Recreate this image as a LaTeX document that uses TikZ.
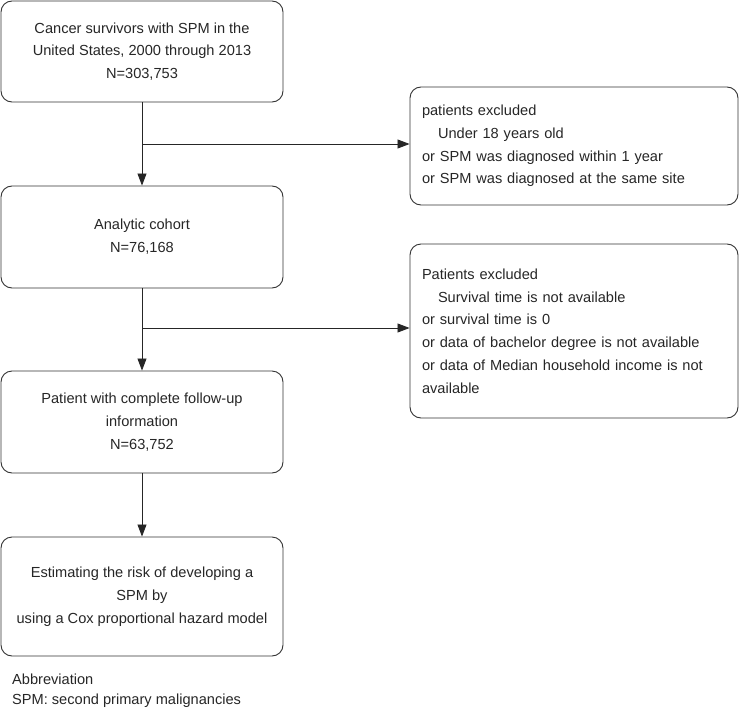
\documentclass[tikz,border=0pt]{standalone}
\usepackage{fontspec}
\setmainfont{Liberation Sans}
\usetikzlibrary{arrows.meta}
\begin{document}
\begin{tikzpicture}[x=1pt,y=1pt,
  every node/.style={font=\fontsize{14.6}{22.8}\selectfont, text=black!85},
  mainbox/.style={draw=black!80, line width=0.9pt, rounded corners=11pt, minimum width=282pt, align=center, inner sep=0pt},
  sidebox/.style={draw=black!80, line width=0.9pt, rounded corners=11pt, text width=304pt, inner xsep=12pt, inner ysep=0pt, align=left, minimum width=328pt},
  arr/.style={draw=black!85, line width=0.8pt, -{Triangle[length=12pt,width=9pt]}},
  plain/.style={draw=black!85, line width=0.8pt}]
\useasboundingbox (0,0) rectangle (740,-723);
\node[mainbox, minimum height=101pt] (b1) at (142,-51.5) {Cancer survivors with SPM in the\\United States, 2000 through 2013\\N=303,753};
\node[mainbox, minimum height=102pt] (b2) at (142,-237) {Analytic cohort\\N=76,168};
\node[mainbox, minimum height=102pt] (b3) at (142,-422) {Patient with complete follow-up\\information\\N=63,752};
\node[mainbox, minimum height=119pt] (b4) at (142,-596.5) {Estimating the risk of developing a\\SPM by\\using a Cox proportional hazard model};
\node[sidebox, minimum height=118pt] (r1) at (574,-146) {patients excluded\\\hspace*{16pt}Under 18 years old\\or SPM was diagnosed within 1 year\\or SPM was diagnosed at the same site};
\node[sidebox, minimum height=174pt] (r2) at (574,-331) {Patients excluded\\\hspace*{16pt}Survival time is not available\\or survival time is 0\\or data of bachelor degree is not available\\or data of Median household income is not\\available};
\coordinate (j1) at (142,-144);
\coordinate (j2) at (142,-328);
\draw[arr] (b1) -- (b2);
\draw[arr] (j1) -- (j1 -| r1.west);
\draw[arr] (b2) -- (b3);
\draw[arr] (j2) -- (j2 -| r2.west);
\draw[arr] (b3) -- (b4);
\node[anchor=west, inner sep=0pt] (ab) at (12,-679) {Abbreviation};
\node[anchor=west, inner sep=0pt] (spm) at (12,-701) {SPM: second primary malignancies};
\end{tikzpicture}
\end{document}
